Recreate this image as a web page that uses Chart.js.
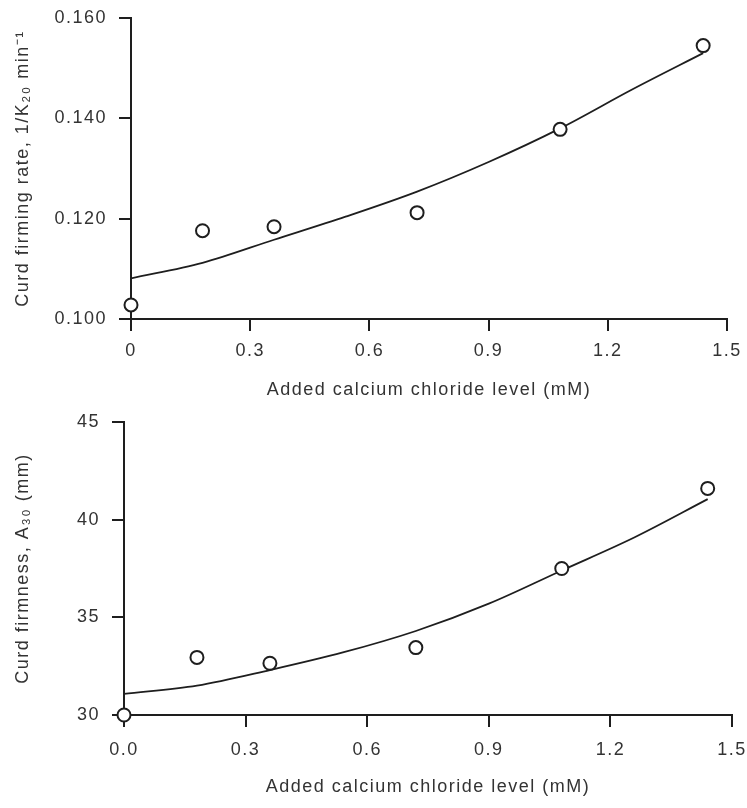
<!DOCTYPE html>
<html>
<head>
<meta charset="utf-8">
<script src="https://cdn.jsdelivr.net/npm/chart.js@4.4.1/dist/chart.umd.min.js"></script>
<style>
    html, body { margin: 0; padding: 0; background: #ffffff; }
    #wrap { position: relative; width: 747px; height: 808px; }
    #wrap canvas { position: absolute; left: 0; }
    #rateChart { top: 0; }
    #firmChart { top: 405px; }
</style>
</head>
<body>
<div id="wrap">
    <canvas id="rateChart" width="747" height="405"></canvas>
    <canvas id="firmChart" width="747" height="403"></canvas>
</div>
<script>
// measured points
const calciumLevels = [0, 0.18, 0.36, 0.72, 1.08, 1.44];
const firmingRate = [0.1028, 0.1176, 0.1184, 0.1212, 0.1378, 0.1545];
const curdFirmness = [30.0, 32.95, 32.65, 33.45, 37.5, 41.6];

// fitted curves
const fitLevels = [0, 0.18, 0.36, 0.54, 0.72, 0.9, 1.08, 1.26, 1.44];
const firmingRateFit = [0.1081, 0.1112, 0.1158, 0.1204, 0.1254, 0.1313, 0.1380, 0.1457, 0.1530];
const curdFirmnessFit = [31.08, 31.5, 32.3, 33.2, 34.3, 35.7, 37.4, 39.1, 41.05];

// ticks
const xTickValues = [0, 0.3, 0.6, 0.9, 1.2, 1.5];
const xTickLabelsTop = ['0', '0.3', '0.6', '0.9', '1.2', '1.5'];
const xTickLabelsBottom = ['0.0', '0.3', '0.6', '0.9', '1.2', '1.5'];
const rateTickValues = [0.10, 0.12, 0.14, 0.16];
const rateTickLabels = ['0.100', '0.120', '0.140', '0.160'];
const firmTickValues = [30, 35, 40, 45];
const firmTickLabels = ['30', '35', '40', '45'];

const xTitle = 'Added calcium chloride level (mM)';
const rateTitle = 'Curd firming rate, 1/K\u2082\u2080 min\u207B\u00B9';
const firmTitle = 'Curd firmness, A\u2083\u2080 (mm)';

document.addEventListener('DOMContentLoaded', function () {
    const inkColor = '#1e1e1e';
    const textColor = '#333333';
    const baseFont = { family: "'Liberation Sans', Arial, sans-serif", size: 18 };

    // the scanned lettering is a bit spread out
    const trackingPlugin = {
        id: 'tracking',
        beforeUpdate(chart) { chart.ctx.letterSpacing = '1.5px'; },
        beforeDraw(chart) { chart.ctx.letterSpacing = '1.5px'; }
    };

    function toPoints(xs, ys) {
        return xs.map((x, i) => ({ x: x, y: ys[i] }));
    }

    function buildChart(canvasId, opts) {
        return new Chart(document.getElementById(canvasId), {
            type: 'scatter',
            data: {
                datasets: [{
                    data: toPoints(calciumLevels, opts.points),
                    pointStyle: 'circle',
                    pointRadius: 6.5,
                    pointBorderWidth: 2,
                    pointBackgroundColor: '#ffffff',
                    pointBorderColor: inkColor,
                    clip: false
                }, {
                    data: toPoints(fitLevels, opts.fit),
                    showLine: true,
                    borderColor: inkColor,
                    borderWidth: 1.8,
                    pointRadius: 0,
                    cubicInterpolationMode: 'monotone',
                    fill: false
                }]
            },
            options: {
                responsive: false,
                animation: false,
                events: [],
                layout: { padding: opts.padding },
                plugins: { legend: { display: false }, tooltip: { enabled: false } },
                scales: {
                    x: {
                        type: 'linear',
                        min: 0,
                        max: 1.5,
                        afterBuildTicks: s => { s.ticks = xTickValues.map(v => ({ value: v })); },
                        afterFit: s => {
                            s.height = opts.xHeight;
                            // let the layout padding decide where the axis ends
                            s.paddingLeft = 0;
                            s.paddingRight = 0;
                        },
                        ticks: {
                            callback: (v, i) => opts.xLabels[i],
                            color: textColor,
                            font: baseFont,
                            padding: opts.xPad,
                            maxRotation: 0,
                            autoSkip: false
                        },
                        grid: { drawOnChartArea: false, tickLength: 12, color: inkColor, lineWidth: 2 },
                        border: { color: inkColor, width: 2 },
                        title: {
                            display: true,
                            text: xTitle,
                            color: textColor,
                            font: baseFont,
                            padding: { top: 0, bottom: opts.xTitlePad }
                        }
                    },
                    y: {
                        type: 'linear',
                        min: opts.yTicks[0],
                        max: opts.yTicks[opts.yTicks.length - 1],
                        afterBuildTicks: s => { s.ticks = opts.yTicks.map(v => ({ value: v })); },
                        afterFit: s => {
                            s.width = opts.yWidth;
                            s.paddingTop = 0;
                            s.paddingBottom = 0;
                        },
                        ticks: {
                            callback: (v, i) => opts.yLabels[i],
                            color: textColor,
                            font: baseFont,
                            padding: 12
                        },
                        grid: { drawOnChartArea: false, tickLength: 12, color: inkColor, lineWidth: 2 },
                        border: { color: inkColor, width: 2 },
                        title: {
                            display: true,
                            text: opts.yTitle,
                            color: textColor,
                            font: baseFont,
                            padding: { top: 12, bottom: 0 }
                        }
                    }
                }
            },
            plugins: [trackingPlugin]
        });
    }

    buildChart('rateChart', {
        points: firmingRate,
        fit: firmingRateFit,
        yTicks: rateTickValues,
        yLabels: rateTickLabels,
        yTitle: rateTitle,
        xLabels: xTickLabelsTop,
        padding: { top: 18, right: 20, bottom: 0, left: 0 },
        yWidth: 131,
        xHeight: 86,
        xPad: 9,
        xTitlePad: 4
    });

    buildChart('firmChart', {
        points: curdFirmness,
        fit: curdFirmnessFit,
        yTicks: firmTickValues,
        yLabels: firmTickLabels,
        yTitle: firmTitle,
        xLabels: xTickLabelsBottom,
        padding: { top: 17, right: 15, bottom: 0, left: 0 },
        yWidth: 124,
        xHeight: 93,
        xPad: 12,
        xTitlePad: 10
    });
});
</script>
</body>
</html>
